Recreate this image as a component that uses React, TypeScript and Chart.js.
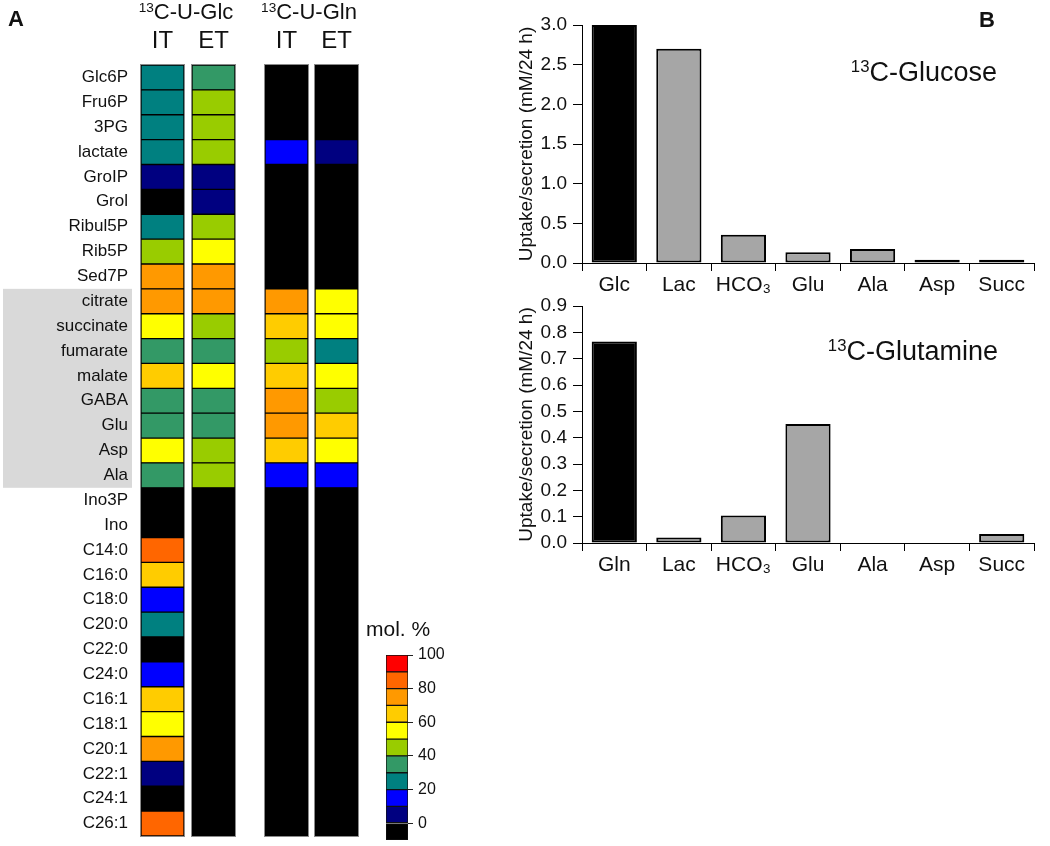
import React, { useEffect, useRef } from 'react';
import { Chart, registerables } from 'chart.js';

Chart.register(...registerables);

const FONT = '"Liberation Sans", Arial, Helvetica, sans-serif';
const INK = '#111111';

// ---------- Panel A data ----------
const ROW_LABELS = [
  'Glc6P', 'Fru6P', '3PG', 'lactate', 'GroIP', 'Grol', 'Ribul5P', 'Rib5P', 'Sed7P',
  'citrate', 'succinate', 'fumarate', 'malate', 'GABA', 'Glu', 'Asp', 'Ala',
  'Ino3P', 'Ino', 'C14:0', 'C16:0', 'C18:0', 'C20:0', 'C22:0', 'C24:0',
  'C16:1', 'C18:1', 'C20:1', 'C22:1', 'C24:1', 'C26:1',
];
const COLUMN_LABELS = ['IT', 'ET', 'IT', 'ET'];
const TRACER_LABELS = ['C-U-Glc', 'C-U-Gln'];
const SHADED_FIRST = 'citrate';
const SHADED_LAST = 'Ala';

// mol. % 13C enrichment (estimated from the colour bins); 0 = black (not labelled)
const GLC_IT = [25, 25, 25, 25, 5, 0, 25, 45, 75, 75, 55, 35, 65, 35, 35, 55, 35, 0, 0, 85, 65, 15, 25, 0, 15, 65, 55, 75, 5, 0, 85];
const GLC_ET = [35, 45, 45, 45, 5, 5, 45, 55, 75, 75, 45, 35, 55, 35, 35, 45, 45, 0, 0, 0, 0, 0, 0, 0, 0, 0, 0, 0, 0, 0, 0];
const GLN_IT = [0, 0, 0, 15, 0, 0, 0, 0, 0, 75, 65, 45, 65, 75, 75, 65, 15, 0, 0, 0, 0, 0, 0, 0, 0, 0, 0, 0, 0, 0, 0];
const GLN_ET = [0, 0, 0, 5, 0, 0, 0, 0, 0, 55, 55, 25, 55, 45, 65, 55, 15, 0, 0, 0, 0, 0, 0, 0, 0, 0, 0, 0, 0, 0, 0];

// colour scale
const BIN_COLORS = ['#000000', '#000080', '#0000FF', '#008080', '#339966', '#99CC00', '#FFFF00', '#FFCC00', '#FF9900', '#FF6600', '#FF0000'];
const BIN_EDGES = [-10, 0, 10, 20, 30, 40, 50, 60, 70, 80, 90, 100];
const COLORBAR_TICKS = [0, 20, 40, 60, 80, 100];

// ---------- Panel B data ----------
const GLUCOSE_CATEGORIES = ['Glc', 'Lac', 'HCO\u2083', 'Glu', 'Ala', 'Asp', 'Succ'];
const GLUCOSE_VALUES = [3.0, 2.7, 0.355, 0.135, 0.175, 0.04, 0.04];
const GLUCOSE_TICKS = [0, 0.5, 1.0, 1.5, 2.0, 2.5, 3.0];

const GLUTAMINE_CATEGORIES = ['Gln', 'Lac', 'HCO\u2083', 'Glu', 'Ala', 'Asp', 'Succ'];
const GLUTAMINE_VALUES = [0.765, 0.021, 0.104, 0.452, 0, 0, 0.034];
const GLUTAMINE_TICKS = [0, 0.1, 0.2, 0.3, 0.4, 0.5, 0.6, 0.7, 0.8, 0.9];

const Y_TITLE = 'Uptake/secretion (mM/24 h)';

// ---------- layout (not data) ----------
const COL_SPANS = [[0, 43], [51, 94], [124, 167], [174, 217]];
const HEAT_X_MAX = 217;

function colorFor(v: number): string {
  if (v <= 0) return BIN_COLORS[0];
  return BIN_COLORS[Math.min(10, Math.floor(v / 10) + 1)];
}

const noScalePadding = (s: any) => {
  s.paddingTop = 0;
  s.paddingBottom = 0;
};

const tcaBand = {
  id: 'tcaBand',
  beforeDraw(chart: any) {
    const y = chart.scales.y;
    const i0 = ROW_LABELS.indexOf(SHADED_FIRST);
    const i1 = ROW_LABELS.indexOf(SHADED_LAST);
    const half = (y.getPixelForValue(1) - y.getPixelForValue(0)) / 2;
    const top = y.getPixelForValue(i0) - half;
    const bottom = y.getPixelForValue(i1) + half;
    const ctx = chart.ctx;
    ctx.save();
    ctx.fillStyle = '#d9d9d9';
    ctx.fillRect(3, top, 129, bottom - top);
    ctx.restore();
  },
};

const columnFrame = {
  id: 'columnFrame',
  beforeDatasetsDraw(chart: any) {
    // dark backing so that anti-aliased seams between cells do not show white
    const x = chart.scales.x;
    const { top, bottom } = chart.chartArea;
    const ctx = chart.ctx;
    ctx.save();
    ctx.fillStyle = '#000000';
    COL_SPANS.forEach((sp) => {
      const x0 = x.getPixelForValue(sp[0]);
      const x1 = x.getPixelForValue(sp[1]);
      ctx.fillRect(x0, top, x1 - x0, bottom - top);
    });
    ctx.restore();
  },
  afterDatasetsDraw(chart: any) {
    const x = chart.scales.x;
    const { top, bottom } = chart.chartArea;
    const ctx = chart.ctx;
    ctx.save();
    ctx.strokeStyle = '#8a8a8a';
    ctx.lineWidth = 1;
    COL_SPANS.forEach((sp) => {
      const x0 = x.getPixelForValue(sp[0]);
      const x1 = x.getPixelForValue(sp[1]);
      ctx.strokeRect(Math.round(x0) - 0.5, Math.round(top) - 0.5, Math.round(x1 - x0) + 1, Math.round(bottom - top) + 1);
    });
    ctx.restore();
  },
};

function heatConfig(): any {
  const values = [GLC_IT, GLC_ET, GLN_IT, GLN_ET];
  return {
    type: 'bar',
    data: {
      labels: ROW_LABELS,
      datasets: values.map((vals, c) => ({
        data: vals.map(() => COL_SPANS[c]),
        backgroundColor: vals.map(colorFor),
        borderColor: '#000000',
        borderWidth: 1,
        borderSkipped: false,
        grouped: false,
        barPercentage: 1,
        categoryPercentage: 1,
      })),
    },
    options: {
      indexAxis: 'y',
      animation: false,
      responsive: false,
      maintainAspectRatio: false,
      layout: { padding: { top: 0, right: 12, bottom: 10, left: 0 } },
      plugins: { legend: { display: false }, tooltip: { enabled: false } },
      scales: {
        x: {
          type: 'linear',
          position: 'top',
          min: 0,
          max: HEAT_X_MAX,
          grid: { display: false, drawTicks: false },
          border: { display: false },
          afterBuildTicks: (s: any) => {
            s.ticks = COL_SPANS.map((sp) => ({ value: (sp[0] + sp[1]) / 2 }));
          },
          ticks: {
            callback: (_v: any, i: number) => COLUMN_LABELS[i],
            font: { family: FONT, size: 24 },
            color: INK,
            padding: 9,
            maxRotation: 0,
            autoSkip: false,
          },
          afterFit: (s: any) => { s.height = 65; s.paddingLeft = 0; s.paddingRight = 0; },
        },
        y: {
          type: 'category',
          grid: { display: false, drawTicks: false },
          border: { display: false },
          ticks: { font: { family: FONT, size: 17 }, color: INK, padding: 13, autoSkip: false },
          afterFit: (s: any) => { s.width = 141; noScalePadding(s); },
        },
      },
    },
    plugins: [tcaBand, columnFrame],
  };
}

function colorbarConfig(): any {
  return {
    type: 'bar',
    data: {
      labels: [''],
      datasets: BIN_COLORS.map((c, i) => ({
        data: [[BIN_EDGES[i], BIN_EDGES[i + 1]]],
        backgroundColor: c,
        borderColor: '#111',
        borderWidth: 1,
        borderSkipped: false,
        grouped: false,
        barPercentage: 1,
        categoryPercentage: 1,
      })),
    },
    options: {
      animation: false,
      responsive: false,
      maintainAspectRatio: false,
      layout: { padding: { top: 15, right: 0, bottom: 6, left: 26 } },
      plugins: { legend: { display: false }, tooltip: { enabled: false } },
      scales: {
        x: { display: false },
        y: {
          position: 'right',
          min: BIN_EDGES[0],
          max: BIN_EDGES[BIN_EDGES.length - 1],
          afterBuildTicks: (s: any) => { s.ticks = COLORBAR_TICKS.map((v) => ({ value: v })); },
          grid: { drawOnChartArea: false, drawTicks: true, tickLength: 5, color: '#222' },
          border: { display: false },
          ticks: { font: { family: FONT, size: 16 }, color: INK, padding: 5 },
          afterFit: (s: any) => { s.width = 52; noScalePadding(s); },
        },
      },
    },
  };
}

function barConfig(categories: string[], values: number[], ticks: number[], padTop: number, xHeight: number): any {
  return {
    type: 'bar',
    data: {
      labels: categories,
      datasets: [{
        data: values,
        backgroundColor: values.map((_v, i) => (i === 0 ? '#000000' : '#a6a6a6')),
        borderColor: '#000000',
        borderWidth: 2,
        borderSkipped: false,
        barPercentage: 0.7,
        categoryPercentage: 1,
      }],
    },
    options: {
      animation: false,
      responsive: false,
      maintainAspectRatio: false,
      layout: { padding: { top: padTop, right: 16, bottom: 0, left: 0 } },
      plugins: { legend: { display: false }, tooltip: { enabled: false } },
      scales: {
        x: {
          grid: { offset: true, drawOnChartArea: false, drawTicks: true, tickLength: 8, color: '#000', lineWidth: 1 },
          border: { display: true, color: '#000', width: 1 },
          ticks: { font: { family: FONT, size: 21 }, color: INK, padding: 2, maxRotation: 0, autoSkip: false },
          afterFit: (s: any) => { s.height = xHeight; s.paddingLeft = 0; s.paddingRight = 0; },
        },
        y: {
          min: ticks[0],
          max: ticks[ticks.length - 1],
          afterBuildTicks: (s: any) => { s.ticks = ticks.map((v) => ({ value: v })); },
          grid: { drawOnChartArea: false, drawTicks: true, tickLength: 9, color: '#000', lineWidth: 1 },
          border: { display: true, color: '#000', width: 1 },
          ticks: {
            font: { family: FONT, size: 19 },
            color: INK,
            padding: 6,
            autoSkip: false,
            callback: (v: any) => Number(v).toFixed(1),
          },
          title: {
            display: true,
            text: Y_TITLE,
            font: { family: FONT, size: 19 },
            color: INK,
            padding: { top: 15.6, bottom: 0 },
          },
          afterFit: (s: any) => { s.width = 82; noScalePadding(s); },
        },
      },
    },
  };
}

const Sup = ({ children }: { children: React.ReactNode }) => (
  <span style={{ fontSize: '0.62em', verticalAlign: '0.55em', lineHeight: 0 }}>{children}</span>
);

const abs = (extra: React.CSSProperties): React.CSSProperties => ({
  position: 'absolute',
  lineHeight: 1,
  whiteSpace: 'nowrap',
  ...extra,
});

export default function App() {
  const heatRef = useRef<HTMLCanvasElement>(null);
  const cbRef = useRef<HTMLCanvasElement>(null);
  const glcRef = useRef<HTMLCanvasElement>(null);
  const glnRef = useRef<HTMLCanvasElement>(null);

  useEffect(() => {
    Chart.defaults.font.family = FONT;
    const charts = [
      new Chart(heatRef.current!, heatConfig()),
      new Chart(cbRef.current!, colorbarConfig()),
      new Chart(glcRef.current!, barConfig(GLUCOSE_CATEGORIES, GLUCOSE_VALUES, GLUCOSE_TICKS, 25, 37)),
      new Chart(glnRef.current!, barConfig(GLUTAMINE_CATEGORIES, GLUTAMINE_VALUES, GLUTAMINE_TICKS, 26, 47)),
    ];
    return () => charts.forEach((c) => c.destroy());
  }, []);

  return (
    <div style={{ position: 'absolute', left: 0, top: 0, width: 1050, height: 846, background: '#ffffff', fontFamily: FONT, color: INK, overflow: 'hidden' }}>
      <canvas ref={heatRef} width={370} height={846} style={{ position: 'absolute', left: 0, top: 0 }} />
      <canvas ref={cbRef} width={100} height={206} style={{ position: 'absolute', left: 360, top: 640 }} />
      <canvas ref={glcRef} width={550} height={300} style={{ position: 'absolute', left: 500, top: 0 }} />
      <canvas ref={glnRef} width={550} height={310} style={{ position: 'absolute', left: 500, top: 280 }} />

      <div style={abs({ left: 8, top: 8, fontSize: 22, fontWeight: 'bold' })}>A</div>
      <div style={abs({ left: 86, top: 1, width: 200, textAlign: 'center', fontSize: 22 })}><Sup>13</Sup>{TRACER_LABELS[0]}</div>
      <div style={abs({ left: 209, top: 1, width: 200, textAlign: 'center', fontSize: 22 })}><Sup>13</Sup>{TRACER_LABELS[1]}</div>
      <div style={abs({ left: 366, top: 618, fontSize: 21 })}>mol. %</div>

      <div style={abs({ left: 979, top: 9, fontSize: 22, fontWeight: 'bold' })}>B</div>
      <div style={abs({ left: 597, top: 59, width: 400, textAlign: 'right', fontSize: 27 })}><Sup>13</Sup>C-Glucose</div>
      <div style={abs({ left: 598, top: 338, width: 400, textAlign: 'right', fontSize: 27 })}><Sup>13</Sup>C-Glutamine</div>
    </div>
  );
}
